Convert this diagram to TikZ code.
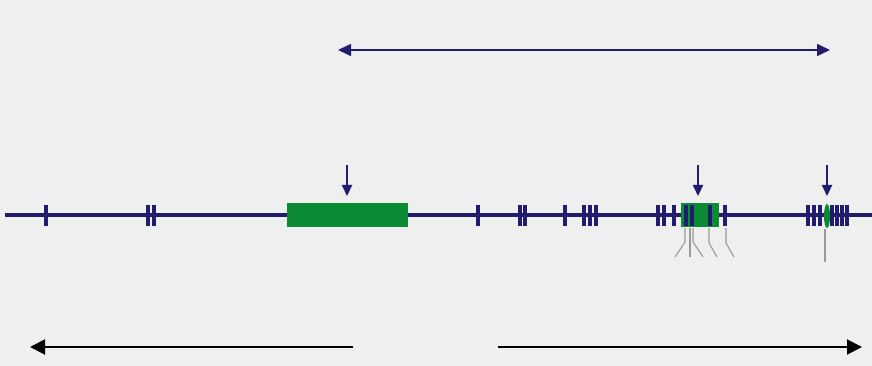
\documentclass[tikz,border=0pt]{standalone}
\usetikzlibrary{arrows.meta,shapes.geometric}
\definecolor{bg}{HTML}{EFEFEF}
\definecolor{navy}{HTML}{211C6E}
\definecolor{gr}{HTML}{0A8A32}
\definecolor{gl}{HTML}{9A9A9A}
\tikzset{
  chrom/.style={draw=navy,line width=4.8pt},
  tick/.style={draw=navy,line width=3.2pt},
  exon/.style={fill=gr,draw=none},
  marker/.style={draw=navy,line width=2.2pt,-{Triangle[length=11pt,width=10pt]}},
  span/.style={draw=navy,line width=1.6pt,{Triangle[length=13pt,width=12pt]}-{Triangle[length=13pt,width=12pt]}},
  dir/.style={draw=black,line width=2pt},
  dirhead/.style={-{Triangle[length=15pt,width=15pt]}},
  probe/.style={draw=gl,line width=1.1pt}
}
\begin{document}
\begin{tikzpicture}[x=1pt,y=-1pt]
\fill[bg] (0,0) rectangle (872,366);
\useasboundingbox (0,0) rectangle (872,366);
% main line
\coordinate (L) at (5,215);
\coordinate (R) at (872,215);
\draw[chrom] (L) -- (R);
% green blocks
\node[exon,minimum width=121pt,minimum height=24pt,inner sep=0pt,anchor=north west] (e1) at (287,203) {};
\node[exon,minimum width=38pt,minimum height=24pt,inner sep=0pt,anchor=north west] (e2) at (681,203) {};
% ticks
\foreach \x in {46,148,154,478,520,525,565,584,590,596,658,664,674,686,692,710,725,808,814,820,832,837,842,847}
  \draw[tick] (\x,205) -- (\x,226);
\node[exon,ellipse,minimum width=6pt,minimum height=24pt,inner sep=0pt] (e3) at (827,216) {};
% downward markers
\coordinate (a1) at (347,165); \coordinate (b1) at (347,196);
\coordinate (a2) at (698,165); \coordinate (b2) at (698,196);
\coordinate (a3) at (827,165); \coordinate (b3) at (827,196);
\draw[marker] (a1) -- (b1);
\draw[marker] (a2) -- (b2);
\draw[marker] (a3) -- (b3);
% top span
\coordinate (s1) at (338,50); \coordinate (s2) at (830,50);
\draw[span] (s1) -- (s2);
% bottom direction arrows
\coordinate (d1) at (353,347); \coordinate (d2) at (30,347);
\coordinate (d3) at (498,347); \coordinate (d4) at (862,347);
\draw[dir,dirhead] (d1) -- (d2);
\draw[dir,dirhead] (d3) -- (d4);
% probes
\draw[probe] (685,228) -- (685,242) -- (675,257);
\draw[probe] (690,228) -- (690,257);
\draw[probe] (693,228) -- (693,242) -- (703,257);
\draw[probe] (709,228) -- (709,243) -- (717,257);
\draw[probe] (726,228) -- (726,243) -- (734,257);
\draw[probe] (825,229) -- (825,262);
\end{tikzpicture}
\end{document}
